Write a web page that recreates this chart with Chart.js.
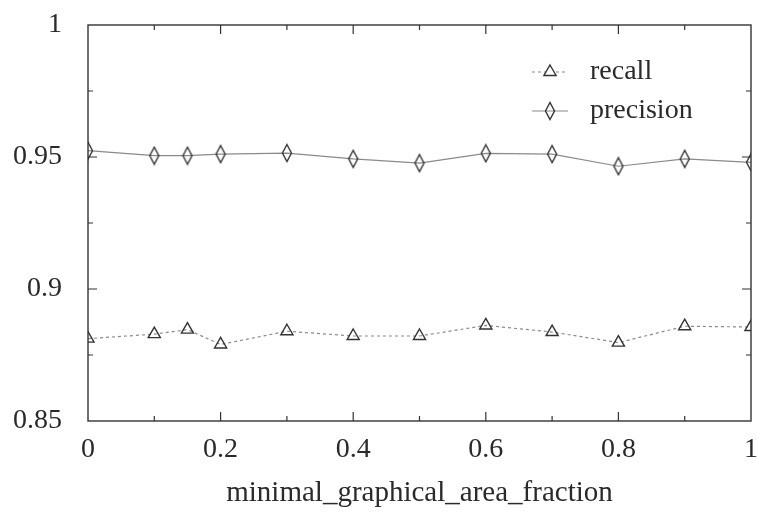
<!DOCTYPE html>
<html lang="en">
<head>
	<meta charset="UTF-8">
	<title>recall / precision</title>
	<script src="https://cdn.jsdelivr.net/npm/chart.js"></script>
	<style>
		html, body { margin: 0; padding: 0; background: #fff; }
		#wrap { width: 757px; height: 515px; }
	</style>
</head>
<body>

<div id="wrap"><canvas id="prChart" width="757" height="515"></canvas></div>

<script>
// values
const fractions = [0, 0.1, 0.15, 0.2, 0.3, 0.4, 0.5, 0.6, 0.7, 0.8, 0.9, 1];
const recall    = [0.8812, 0.8829, 0.8846, 0.8790, 0.8840, 0.8822, 0.8822, 0.8862, 0.8837, 0.8797, 0.8859, 0.8856];
const precision = [0.9524, 0.9505, 0.9505, 0.9511, 0.9515, 0.9493, 0.9477, 0.9514, 0.9511, 0.9465, 0.9493, 0.9480];
const yTickLabels = { 0.85: '0.85', 0.9: '0.9', 0.95: '0.95', 1: '1' };

const FONT = 'Liberation Serif, Times New Roman, serif';
const INK = '#2a2a2a';

// narrow gnuplot-like diamond
function makeDiamond() {
    const c = document.createElement('canvas');
    c.width = 12; c.height = 20;
    const g = c.getContext('2d');
    g.strokeStyle = '#333';
    g.lineWidth = 1.4;
    g.beginPath();
    g.moveTo(6, 1.5); g.lineTo(10.5, 10); g.lineTo(6, 18.5); g.lineTo(1.5, 10);
    g.closePath();
    g.stroke();
    return c;
}
const diamond = makeDiamond();

const pts = arr => fractions.map((x, i) => ({ x: x, y: arr[i] }));

// frame, inward mirrored ticks and the in-plot legend
const framePlugin = {
    id: 'frame',
    afterDatasetsDraw(chart) {
        const ctx = chart.ctx;
        const a = chart.chartArea;
        const xs = chart.scales.x, ys = chart.scales.y;
        ctx.save();
        ctx.strokeStyle = '#333';
        ctx.lineWidth = 1.4;
        ctx.strokeRect(a.left, a.top, a.right - a.left, a.bottom - a.top);
        ctx.lineWidth = 1.2;
        ctx.beginPath();
        for (let i = 1; i < 10; i++) {
            const px = xs.getPixelForValue(i / 10);
            const len = i % 2 === 0 ? 9 : 5;
            ctx.moveTo(px, a.bottom); ctx.lineTo(px, a.bottom - len);
            ctx.moveTo(px, a.top); ctx.lineTo(px, a.top + len);
        }
        for (let i = 1; i < 6; i++) {
            const py = ys.getPixelForValue(0.85 + i * 0.025);
            const len = i % 2 === 0 ? 9 : 5;
            ctx.moveTo(a.left, py); ctx.lineTo(a.left + len, py);
            ctx.moveTo(a.right, py); ctx.lineTo(a.right - len, py);
        }
        ctx.stroke();

        // legend
        const rows = [72, 111];
        chart.data.datasets.forEach((ds, i) => {
            const y = rows[i];
            ctx.strokeStyle = ds.borderColor;
            ctx.lineWidth = ds.borderWidth;
            ctx.setLineDash(ds.borderDash || []);
            ctx.beginPath();
            ctx.moveTo(532, y); ctx.lineTo(568, y);
            ctx.stroke();
            ctx.setLineDash([]);
            if (ds.pointStyle === 'triangle') {
                const r = ds.pointRadius;
                ctx.strokeStyle = ds.pointBorderColor;
                ctx.lineWidth = ds.pointBorderWidth;
                ctx.fillStyle = '#fff';
                ctx.beginPath();
                ctx.moveTo(550, y - r);
                ctx.lineTo(550 + r * 0.87, y + r * 0.5);
                ctx.lineTo(550 - r * 0.87, y + r * 0.5);
                ctx.closePath();
                ctx.fill();
                ctx.stroke();
            } else {
                ctx.drawImage(ds.pointStyle, 550 - 6, y - 10);
            }
            ctx.fillStyle = INK;
            ctx.font = '28px ' + FONT;
            ctx.textAlign = 'left';
            ctx.textBaseline = 'middle';
            ctx.fillText(ds.label, 590, y);
        });
        ctx.restore();
    }
};

const ctx = document.getElementById('prChart').getContext('2d');
new Chart(ctx, {
    type: 'line',
    data: {
        datasets: [{
            label: 'recall',
            data: pts(recall),
            borderColor: '#8a8a8a',
            borderWidth: 1.2,
            borderDash: [3, 3],
            pointStyle: 'triangle',
            pointRadius: 7,
            pointBorderColor: '#333',
            pointBorderWidth: 1.4,
            pointBackgroundColor: 'rgba(255,255,255,0)',
            tension: 0
        }, {
            label: 'precision',
            data: pts(precision),
            borderColor: '#8a8a8a',
            borderWidth: 1.2,
            pointStyle: diamond,
            pointRadius: 8,
            tension: 0
        }]
    },
    options: {
        responsive: false,
        animation: false,
        events: [],
        layout: { autoPadding: false, padding: { top: 25, right: 6, left: 0, bottom: 0 } },
        plugins: { legend: { display: false }, tooltip: { enabled: false } },
        scales: {
            x: {
                type: 'linear',
                min: 0, max: 1,
                grid: { display: false, drawTicks: false },
                border: { display: false },
                ticks: {
                    stepSize: 0.2,
                    padding: 12,
                    color: INK,
                    font: { family: FONT, size: 28 },
                    maxRotation: 0,
                    callback: v => String(Math.round(v * 10) / 10)
                },
                title: {
                    display: true,
                    text: 'minimal_graphical_area_fraction',
                    color: INK,
                    font: { family: FONT, size: 29 },
                    padding: { top: 0, bottom: 4 }
                },
                afterFit: s => { s.height = 94; s.paddingLeft = 0; s.paddingRight = 0; }
            },
            y: {
                min: 0.85, max: 1,
                grid: { display: false, drawTicks: false },
                border: { display: false },
                ticks: {
                    stepSize: 0.05,
                    padding: 26,
                    color: INK,
                    font: { family: FONT, size: 28 },
                    callback: v => yTickLabels[Math.round(v * 100) / 100] || ''
                },
                afterFit: s => { s.width = 88; s.paddingTop = 0; s.paddingBottom = 0; }
            }
        }
    },
    plugins: [framePlugin]
});
</script>

</body>
</html>
